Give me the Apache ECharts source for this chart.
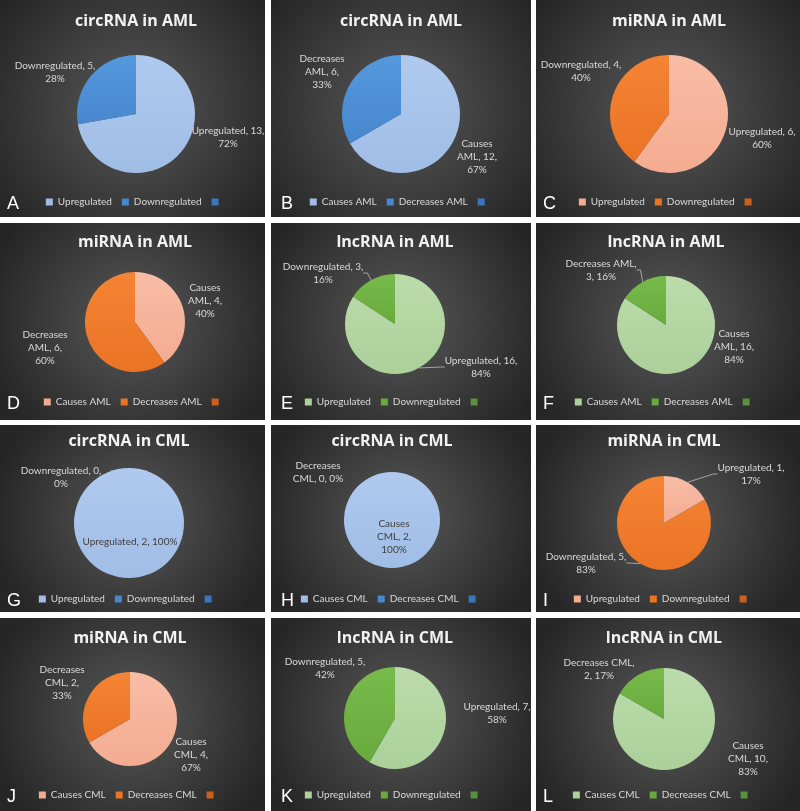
<!DOCTYPE html>
<html>
<head>
<meta charset="utf-8">
<script src="https://cdn.jsdelivr.net/npm/echarts@6/dist/echarts.min.js"></script>
<style>
html,body{margin:0;padding:0;background:#ffffff;}
#chart{width:800px;height:811px;}
</style>
</head>
<body>
<div id="chart"></div>
<script>
// ---------------- data ----------------
const panelLetters = ['A','B','C','D','E','F','G','H','I','J','K','L'];
const panelTitles = ['circRNA in AML','circRNA in AML','miRNA in AML','miRNA in AML','lncRNA in AML','lncRNA in AML',
                     'circRNA in CML','circRNA in CML','miRNA in CML','miRNA in CML','lncRNA in CML','lncRNA in CML'];
const catsUpDown = ['Upregulated','Downregulated',' '];
const catsAML = ['Causes AML','Decreases AML',' '];
const catsCML = ['Causes CML','Decreases CML',' '];
const valuesA = [13, 5, 0];
const valuesB = [12, 6, 0];
const valuesC = [6, 4, 0];
const valuesD = [4, 6, 0];
const valuesE = [16, 3, 0];
const valuesF = [16, 3, 0];
const valuesG = [2, 0, 0];
const valuesH = [2, 0, 0];
const valuesI = [1, 5, 0];
const valuesJ = [4, 2, 0];
const valuesK = [7, 5, 0];
const valuesL = [10, 2, 0];
const panelCats = [catsUpDown, catsAML, catsUpDown, catsAML, catsUpDown, catsAML,
                   catsUpDown, catsCML, catsUpDown, catsCML, catsUpDown, catsCML];
const panelValues = [valuesA, valuesB, valuesC, valuesD, valuesE, valuesF,
                     valuesG, valuesH, valuesI, valuesJ, valuesK, valuesL];
const panelPalette = ['blue','blue','orange','orange','green','green','blue','blue','orange','orange','green','green'];

// ---------------- layout / style ----------------
const palettes = {
  blue:   [['#b0caee', '#a0bde6'], ['#5598dc', '#4787cf'], '#3a76bd'],
  orange: [['#f8bda6', '#f3ac91'], ['#f48435', '#eb7324'], '#c9611d'],
  green:  [['#bbdcab', '#abd09a'], ['#78ba4b', '#68ab3c'], '#56933a']
};
const colX = [[0, 265], [271, 531], [536, 800]];
const rowY = [[0, 217], [223, 420], [425, 612], [618, 811]];
const pieGeom = [[136,114,59],[401,114,59],[669,114,59],
                 [135,322,50],[395,324,50],[666,325,49],
                 [129,523,55],[392,520,48],[664,523,47],
                 [130,719,47],[395,718,51],[664,719,51]];
const titleY = [21, 242, 441, 638];
const legendY = [204, 404, 601, 797];
const letterDX = [7, 10, 7];
const labelOffsets = [
  [[92,23],[-81,-42]], [[76,43],[-79,-42]], [[93,24],[-88,-43]],
  [[70,-21],[-90,26]], [[86,43],[-72,-51]], [[68,22],[-65,-55]],
  [[1,19],[-68,-46]],  [[2,17],[-74,-48]],  [[87,-49],[-78,40]],
  [[61,36],[-68,-36]], [[102,-5],[-70,-50]], [[84,40],[-65,-50]]
];
const labelForms = [
  ['n','n'],['w','w'],['n','n'],
  ['w','w'],['n','n'],['w','nb'],
  ['s','n'],['w','wb'],['n','n'],
  ['w','w'],['n','n'],['w','nb']
];
const labelLines = [
  [0,0],[0,0],[0,0],
  [0,0],[1,1],[0,1],
  [0,0],[0,0],[1,1],
  [0,0],[0,0],[0,0]
];
const insideLabel = { 6: 0, 7: 0 };   // panel index -> item drawn inside the pie (dark text)
const FONT = 'Lato';
const labelColor = '#d9d9d9';
const insideColor = '#404040';

function fmt(form, name, v, p) {
  const parts = name.split(' ');
  const w1 = parts[0], w2 = parts.slice(1).join(' ');
  switch (form) {
    case 'w':  return w1 + '\n' + w2 + ', ' + v + ',\n' + p + '%';
    case 's':  return name + ', ' + v + ', ' + p + '%';
    case 'nb': return name + ',\n' + v + ', ' + p + '%';
    case 'wb': return w1 + '\n' + w2 + ', ' + v + ', ' + p + '%';
    default:   return name + ', ' + v + ',\n' + p + '%';
  }
}

function grad(c) {
  if (typeof c === 'string') return c;
  return { type: 'linear', x: 0, y: 0, x2: 0, y2: 1,
           colorStops: [{ offset: 0, color: c[0] }, { offset: 1, color: c[1] }] };
}
function solid(c) { return typeof c === 'string' ? c : c[1]; }

const ctx = document.createElement('canvas').getContext('2d');
ctx.font = '10px ' + FONT;
function legendWidth(names) {
  let w = 0;
  names.forEach(n => { w += 7 + 5 + ctx.measureText(n).width; });
  return w + 10 * (names.length - 1);
}

const graphic = [];
const series = [];
const legends = [];

for (let i = 0; i < 12; i++) {
  const col = i % 3, row = Math.floor(i / 3);
  const [x0, x1] = colX[col], [y0, y1] = rowY[row];
  const [cx, cy, r] = pieGeom[i];
  const pal = palettes[panelPalette[i]];
  const cats = panelCats[i], vals = panelValues[i];

  graphic.push({
    type: 'rect', z: -10,
    shape: { x: x0, y: y0, width: x1 - x0, height: y1 - y0 },
    style: { fill: { type: 'radial', x: 0.5, y: 0.5, r: 0.75,
      colorStops: [{ offset: 0, color: '#585858' }, { offset: 1, color: '#262626' }] } }
  });
  graphic.push({
    type: 'text', z: 10, x: cx, y: titleY[row],
    style: { text: panelTitles[i], fill: '#f2f2f2', fontSize: 16, fontWeight: 'bold', fontFamily: 'Open Sans',
             align: 'center', verticalAlign: 'middle' }
  });
  graphic.push({
    type: 'text', z: 10, x: x0 + letterDX[col], y: legendY[row],
    style: { text: panelLetters[i], fill: '#ffffff', fontSize: 18, fontFamily: 'Liberation Sans',
             align: 'left', verticalAlign: 'middle' }
  });

  series.push({
    type: 'pie', center: [cx, cy], radius: r, startAngle: 90, clockwise: true,
    avoidLabelOverlap: false, percentPrecision: 0, animation: false, silent: true,
    data: cats.map((n, k) => ({
      name: n, value: vals[k],
      itemStyle: { color: grad(pal[k]) },
      label: { show: k < 2, color: insideLabel[i] === k ? insideColor : labelColor },
      labelLine: { show: k < 2 && !!labelLines[i][k] }
    })),
    itemStyle: { borderWidth: 0 },
    label: {
      position: 'outside', color: labelColor, fontSize: 10, fontFamily: FONT, lineHeight: 13,
      formatter: (p) => fmt(labelForms[i][p.dataIndex], p.name, p.value, p.percent)
    },
    labelLine: { show: false, length: 4, length2: 4, lineStyle: { color: '#a6a6a6', width: 1 } },
    labelLayout: (p) => {
      const o = labelOffsets[i][p.dataIndex];
      if (!o) return {};
      return { x: cx + o[0], y: cy + o[1], align: 'center', verticalAlign: 'middle' };
    }
  });

  const lw = legendWidth(cats);
  legends.push({
    left: cx - lw / 2, top: legendY[row] - 7, padding: 0,
    itemWidth: 7, itemHeight: 7, itemGap: 10, icon: 'rect', selectedMode: false,
    textStyle: { color: labelColor, fontSize: 10, fontFamily: FONT },
    data: cats.map((n, k) => ({ name: n, itemStyle: { color: solid(pal[k]) } }))
  });
}

const chart = echarts.init(document.getElementById('chart'), null, { renderer: 'canvas' });
chart.setOption({
  backgroundColor: '#ffffff',
  animation: false,
  graphic: graphic,
  legend: legends,
  series: series
});
</script>
</body>
</html>
